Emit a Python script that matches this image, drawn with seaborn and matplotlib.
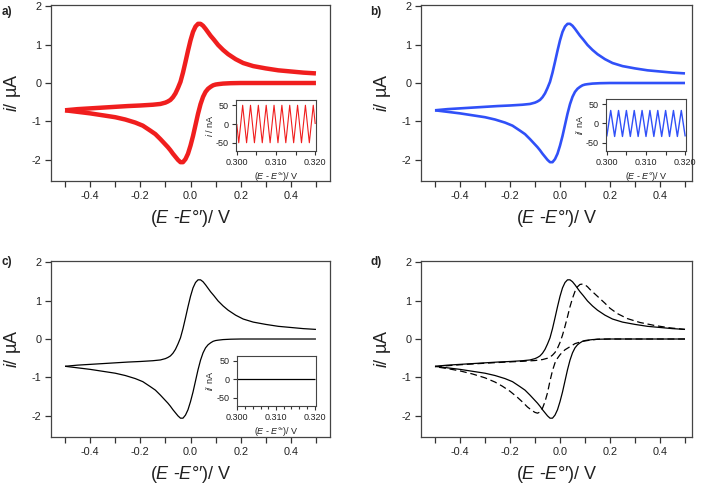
import numpy as np
import pandas as pd
import seaborn as sns
import matplotlib
import matplotlib.pyplot as plt
from matplotlib.ticker import MultipleLocator, FormatStrFormatter

# forward scan (upper branch), E in V, i in uA
fwd_E = [-0.50, -0.45, -0.40, -0.35, -0.30, -0.25, -0.20, -0.15, -0.12, -0.10,
         -0.09, -0.08, -0.07, -0.06, -0.05, -0.04, -0.03, -0.02, -0.01, 0.00,
         0.01, 0.02, 0.03, 0.04, 0.05, 0.06, 0.07, 0.08, 0.093, 0.11, 0.13,
         0.15, 0.18, 0.21, 0.25, 0.30, 0.35, 0.40, 0.45, 0.50]
fwd_i = [-0.71, -0.68, -0.66, -0.64, -0.62, -0.60, -0.585, -0.565, -0.545,
         -0.51, -0.48, -0.44, -0.37, -0.27, -0.13, 0.03, 0.27, 0.55, 0.84,
         1.11, 1.33, 1.47, 1.54, 1.54, 1.49, 1.41, 1.32, 1.23, 1.13, 0.99,
         0.86, 0.75, 0.62, 0.52, 0.44, 0.38, 0.33, 0.30, 0.27, 0.25]
# reverse scan (lower branch)
rev_E = [0.50, 0.20, 0.16, 0.13, 0.11, 0.10, 0.09, 0.08, 0.07, 0.06, 0.05,
         0.04, 0.03, 0.02, 0.01, 0.00, -0.01, -0.02, -0.03, -0.04, -0.05,
         -0.06, -0.07, -0.08, -0.09, -0.10, -0.12, -0.14, -0.16, -0.19, -0.22,
         -0.26, -0.30, -0.35, -0.40, -0.45, -0.50]
rev_i = [0.00, 0.00, -0.005, -0.015, -0.03, -0.04, -0.06, -0.10, -0.15, -0.23,
         -0.36, -0.55, -0.80, -1.09, -1.38, -1.63, -1.84, -1.98, -2.06, -2.06,
         -2.00, -1.92, -1.84, -1.75, -1.67, -1.60, -1.46, -1.33, -1.24, -1.11,
         -1.03, -0.95, -0.89, -0.84, -0.79, -0.75, -0.71]

# dashed curve of panel d
dash_fwd_E = [-0.50, -0.40, -0.30, -0.20, -0.15, -0.10, -0.07, -0.05, -0.04,
              -0.03, -0.02, -0.01, 0.00, 0.01, 0.02, 0.03, 0.04, 0.05, 0.06,
              0.07, 0.08, 0.09, 0.10, 0.11, 0.12, 0.14, 0.16, 0.18, 0.20,
              0.23, 0.27, 0.32, 0.38, 0.44, 0.50]
dash_fwd_i = [-0.72, -0.67, -0.63, -0.595, -0.58, -0.56, -0.535, -0.50, -0.47,
              -0.42, -0.35, -0.24, -0.09, 0.10, 0.33, 0.58, 0.84, 1.06, 1.24,
              1.36, 1.42, 1.43, 1.41, 1.36, 1.29, 1.17, 1.05, 0.93, 0.80,
              0.66, 0.53, 0.43, 0.35, 0.29, 0.25]
dash_rev_E = [0.50, 0.20, 0.15, 0.12, 0.09, 0.06, 0.04, 0.02, 0.01, 0.00,
              -0.01, -0.02, -0.03, -0.04, -0.05, -0.06, -0.07, -0.08, -0.09,
              -0.10, -0.11, -0.13, -0.15, -0.17, -0.20, -0.23, -0.26, -0.30,
              -0.35, -0.40, -0.45, -0.50]
dash_rev_i = [0.00, 0.00, -0.005, -0.03, -0.06, -0.12, -0.20, -0.28, -0.34,
              -0.41, -0.50, -0.62, -0.82, -1.09, -1.40, -1.63, -1.80, -1.90,
              -1.93, -1.91, -1.87, -1.77, -1.64, -1.52, -1.36, -1.23, -1.12,
              -1.01, -0.91, -0.83, -0.77, -0.72]

# insets, E in V, i in nA
ins_a_E = [0.300, 0.3005, 0.3015, 0.3025, 0.3035, 0.3045, 0.3055, 0.3065,
           0.3075, 0.3085, 0.3095, 0.3105, 0.3115, 0.3125, 0.3135, 0.3145,
           0.3155, 0.3165, 0.3175, 0.3185, 0.3195, 0.320]
ins_a_i = [0, -50, 50, -50, 50, -50, 50, -50, 50, -50, 50, -50, 50, -50, 50,
           -50, 50, -50, 50, -50, 50, 0]
ins_b_E = [0.300, 0.301, 0.302, 0.303, 0.304, 0.305, 0.306, 0.307, 0.308,
           0.309, 0.310, 0.311, 0.312, 0.313, 0.314, 0.315, 0.316, 0.317,
           0.318, 0.319, 0.320]
ins_b_i = [-34, 34, -34, 34, -34, 34, -34, 34, -34, 34, -34, 34, -34, 34, -34,
           34, -34, 34, -34, 34, -34]
ins_c_E = [0.300, 0.320]
ins_c_i = [0, 0]

sns.set_theme(style="ticks")
plt.rcParams["font.family"] = ["Liberation Sans", "DejaVu Sans"]
plt.rcParams["mathtext.fontset"] = "custom"
plt.rcParams["mathtext.it"] = "Liberation Sans:italic"
plt.rcParams["mathtext.rm"] = "Liberation Sans"
plt.rcParams["axes.unicode_minus"] = False

INK = "#222222"
RED = "#f01e1e"
BLUE = "#3050f8"


def cv_frame(E1, i1, E2, i2):
    # two scan branches, kept as separate units so they are not joined
    return pd.DataFrame({
        "E": list(E1) + list(E2),
        "i": list(i1) + list(i2),
        "branch": ["fwd"] * len(E1) + ["rev"] * len(E2),
    })


cv = cv_frame(fwd_E, fwd_i, rev_E, rev_i)
cv_dash = cv_frame(dash_fwd_E, dash_fwd_i, dash_rev_E, dash_rev_i)


def style_main(ax, xlim):
    ax.set_xlim(*xlim)
    ax.set_ylim(-2.55, 2.03)
    ax.xaxis.set_major_locator(MultipleLocator(0.2))
    ax.xaxis.set_minor_locator(MultipleLocator(0.1))
    ax.xaxis.set_major_formatter(FormatStrFormatter("%.1f"))
    ax.yaxis.set_major_locator(MultipleLocator(1))
    ax.tick_params(which="both", direction="out", length=4, width=0.9,
                   color="#333333", labelsize=7.8, labelcolor=INK, pad=3)
    for s in ax.spines.values():
        s.set_visible(True)
        s.set_linewidth(0.9)
        s.set_color("#444444")
    ax.set_xlabel(r"($\it{E}$ -$\it{E}$°′)/ V", fontsize=13, color=INK, labelpad=5)
    ax.set_ylabel(r"$\it{i}$/ µA", fontsize=13, color=INK, labelpad=6)


def style_inset(ax, ylab, xlab, minor):
    ax.set_xlim(0.2998, 0.3202)
    ax.set_ylim(-72, 64)
    ax.set_xticks([0.300, 0.310, 0.320])
    ax.xaxis.set_major_formatter(FormatStrFormatter("%.3f"))
    ax.xaxis.set_minor_locator(MultipleLocator(minor))
    ax.set_yticks([-50, 0, 50])
    ax.tick_params(which="major", direction="out", length=3, width=0.8,
                   color="#333333", labelsize=6.5, labelcolor=INK, pad=2)
    ax.tick_params(which="minor", direction="out", length=2 if minor < 0.004 else 3,
                   width=0.8, color="#333333")
    for s in ax.spines.values():
        s.set_visible(True)
        s.set_linewidth(0.8)
        s.set_color("#444444")
    ax.set_xlabel(xlab, fontsize=6.5, color=INK, labelpad=2)
    ax.set_ylabel(ylab, fontsize=6.5, color=INK, labelpad=1)


fig = plt.figure(figsize=(7.02, 4.86), dpi=100)
W, H = 702, 486


def px_axes(x0, y0, x1, y1):
    return fig.add_axes([x0 / W, 1 - y1 / H, (x1 - x0) / W, (y1 - y0) / H])


ax_a = px_axes(51, 5, 330, 181)
ax_b = px_axes(421, 5, 692, 181)
ax_c = px_axes(51, 261, 330, 437)
ax_d = px_axes(421, 261, 692, 437)

line_kw = dict(sort=False, estimator=None, solid_joinstyle="round",
               solid_capstyle="butt")
cv_kw = dict(data=cv, x="E", y="i", units="branch", **line_kw)
sns.lineplot(ax=ax_a, color=RED, linewidth=3.2, **cv_kw)
sns.lineplot(ax=ax_b, color=BLUE, linewidth=1.9, **cv_kw)
sns.lineplot(ax=ax_c, color="black", linewidth=0.9, **cv_kw)
sns.lineplot(ax=ax_d, color="black", linewidth=0.9, **cv_kw)
sns.lineplot(data=cv_dash, x="E", y="i", units="branch", sort=False,
             estimator=None, ax=ax_d, color="black", linewidth=0.9,
             linestyle=(0, (5.5, 3)))

style_main(ax_a, (-0.556, 0.556))
style_main(ax_b, (-0.556, 0.528))
style_main(ax_c, (-0.556, 0.556))
style_main(ax_d, (-0.556, 0.528))

in_a = px_axes(236, 100, 316, 151)
in_b = px_axes(606, 99, 686, 151)
in_c = px_axes(236.5, 355.5, 315.5, 406)

sns.lineplot(x=ins_a_E, y=ins_a_i, ax=in_a, color=RED, linewidth=0.8, **line_kw)
sns.lineplot(x=ins_b_E, y=ins_b_i, ax=in_b, color=BLUE, linewidth=1.0, **line_kw)
sns.lineplot(x=ins_c_E, y=ins_c_i, ax=in_c, color="black", linewidth=0.9, **line_kw)

style_inset(in_a, r"$\it{i}$ / nA", r"($\it{E}$ - $\it{E}$°')/ V", 0.005)
style_inset(in_b, r"$\it{i}$/ nA", r"($\it{E}$ - $\it{E}$°)/ V", 0.005)
style_inset(in_c, r"$\it{i}$/ nA", r"($\it{E}$ - $\it{E}$°')/ V", 0.002)

for lab, (x, y) in zip(["a)", "b)", "c)", "d)"],
                       [(2, 12), (370, 12), (2, 262), (370, 262)]):
    fig.text(x / W, 1 - y / H, lab, fontsize=8.5, fontweight="bold",
             color=INK, va="center", ha="left")

fig.savefig("out.png", dpi=100)
